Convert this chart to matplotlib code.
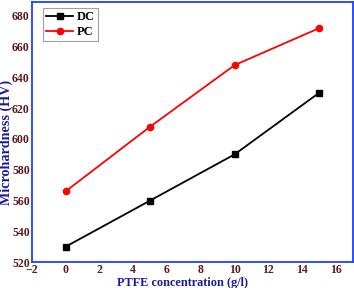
import matplotlib
matplotlib.use("Agg")
import matplotlib.pyplot as plt

# data
ptfe = [0, 5, 10, 15]
dc = [530, 560, 590, 630]
pc = [566, 608, 648, 672]

plt.rcParams['font.family'] = 'Liberation Serif'
plt.rcParams['font.weight'] = 'bold'

fig = plt.figure(figsize=(3.54, 2.88), dpi=100)
ax = fig.add_axes([0.09, 0.09, 0.907, 0.903])

ax.plot(ptfe, dc, color='black', marker='s', markersize=4.5, linewidth=1.3, label='DC')
ax.plot(ptfe, pc, color='red', marker='o', markersize=4.5, linewidth=1.3, label='PC')

ax.set_xlim(-2, 17)
ax.set_ylim(520, 689)
ax.set_xticks(range(-2, 17, 2))
ax.set_yticks(range(520, 681, 20))
ax.tick_params(length=0, labelsize=8.5, labelcolor='#5a1a1a', pad=1.5)
for s in ax.spines.values():
    s.set_color('#2040ff')
    s.set_linewidth(1.3)

ax.set_xlabel('PTFE concentration (g/l)', fontsize=8.8, fontweight='bold', color='#1a1a9a')
ax.set_ylabel('Microhardness (HV)', fontsize=10.2, fontweight='bold', color='#1a1a9a')
ax.xaxis.set_label_coords(0.47, -0.057)
ax.yaxis.set_label_coords(-0.058, 0.46)

leg = ax.legend(loc='upper left', bbox_to_anchor=(0.034, 0.977), borderaxespad=0,
                fontsize=9, frameon=True, fancybox=False, borderpad=0.25,
                handlelength=2.2, handletextpad=0.3, labelspacing=0.25)
leg.get_frame().set_edgecolor('#888888')
leg.get_frame().set_linewidth(0.8)

fig.savefig('out.png', dpi=100)
